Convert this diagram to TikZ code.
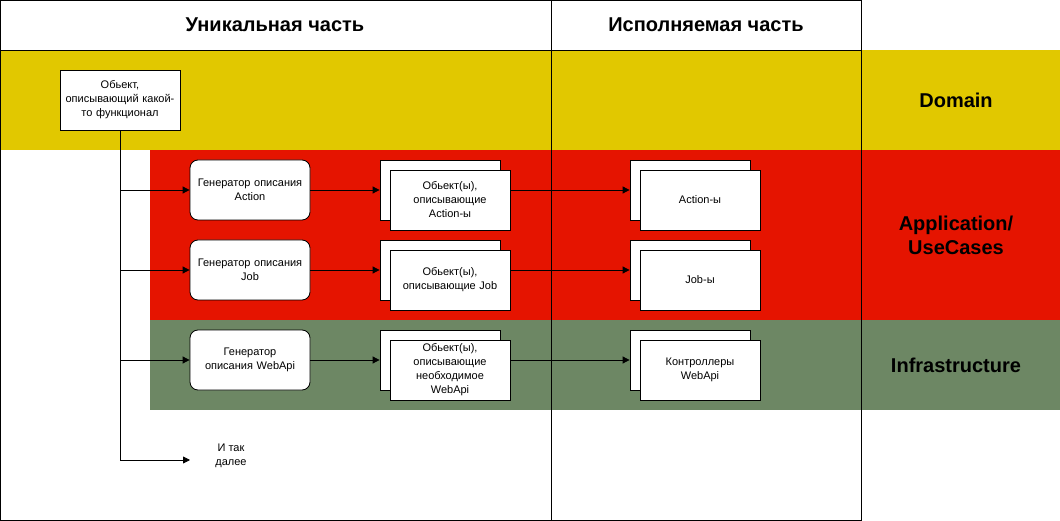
\documentclass[tikz,border=0pt]{standalone}
\usepackage{fontspec}
\setmainfont{Liberation Sans}
\usetikzlibrary{arrows.meta}
\definecolor{dom}{HTML}{E1C800}
\definecolor{app}{HTML}{E51400}
\definecolor{inf}{HTML}{6D8764}
\begin{document}
\begin{tikzpicture}[x=1pt,y=-1pt,
  box/.style={draw,fill=white,line width=0.8pt,minimum width=120pt,minimum height=60pt,inner sep=1pt,align=center,font=\fontsize{11}{14}\selectfont,text width=116pt},
  gen/.style={box,rounded corners=8pt},
  ttl/.style={font=\fontsize{20}{24}\selectfont\bfseries,align=center},
  arr/.style={-{Triangle[length=7pt,width=7pt]},line width=0.8pt}]
\useasboundingbox (0,0) rectangle (1060,521);
\fill[dom] (0,50) rectangle (1060,150);
\fill[app] (150,150) rectangle (1060,320);
\fill[inf] (150,320) rectangle (1060,410);
\draw[line width=0.8pt] (0.5,0.5) rectangle (861,520);
\draw[line width=0.8pt] (0,50) -- (861,50);
\draw[line width=0.8pt] (551,0) -- (551,520);
\node[ttl] (t1) at (275,25) {Уникальная часть};
\node[ttl] (t2) at (706,25) {Исполняемая часть};
\node[ttl] (l1) at (956,100) {Domain};
\node[ttl] (l2) at (956,235) {Application/\\UseCases};
\node[ttl] (l3) at (956,365) {Infrastructure};
\node[box] (obj) at (120,100) {Обьект,\\описывающий какой-\\то функционал};
\node[gen] (g1) at (250,190) {Генератор описания\\Action};
\node[gen] (g2) at (250,270) {Генератор описания\\Job};
\node[gen,text width=90pt] (g3) at (250,360) {Генератор описания WebApi};
\foreach \n/\y/\t in {a/190/{Обьект(ы),\\описывающие\\Action-ы},b/270/{Обьект(ы),\\описывающие Job},c/360/{Обьект(ы),\\описывающие\\необходимое\\WebApi}}{
  \node[box] (s\n) at (440,\y) {};
  \node[box] (f\n) at (450,\y+10) {\t};
}
\foreach \n/\y/\t in {a/190/{Action-ы},b/270/{Job-ы},c/360/{Контроллеры\\WebApi}}{
  \node[box] (r\n) at (690,\y) {};
  \node[box] (q\n) at (700,\y+10) {\t};
}
\coordinate (c4) at (190,460);
\node[font=\fontsize{11}{14}\selectfont,align=center] (etc) at (231,456) {И так\\далее};
\draw[line width=0.8pt] (obj.south) -- (120,460);
\draw[arr] (120,190) -- (g1.west);
\draw[arr] (120,270) -- (g2.west);
\draw[arr] (120,360) -- (g3.west);
\draw[arr] (120,460) -- (c4);
\draw[arr] (g1) -- (sa.west);
\draw[arr] (g2) -- (sb.west);
\draw[arr] (g3) -- (sc.west);
\draw[arr] (fa.east|-sa) -- (ra.west);
\draw[arr] (fb.east|-sb) -- (rb.west);
\draw[arr] (fc.east|-sc) -- (rc.west);
\end{tikzpicture}
\end{document}
